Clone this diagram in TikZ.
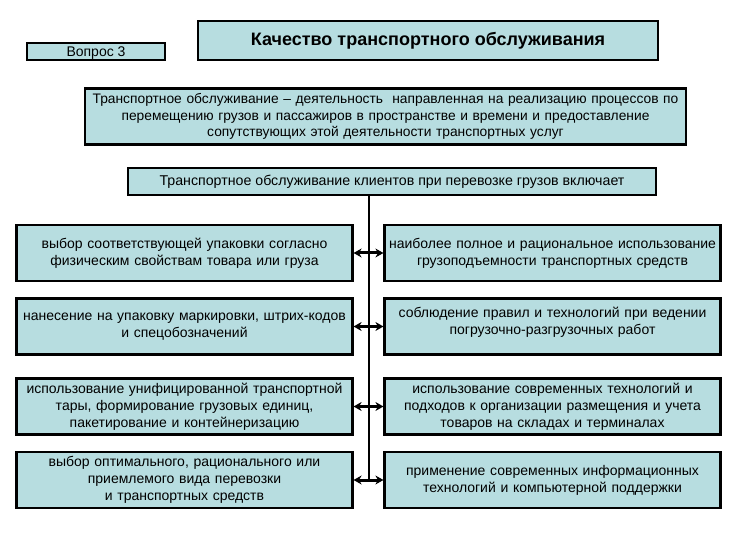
\documentclass[tikz,border=0pt]{standalone}
\usepackage{fontspec}
\setmainfont{Liberation Sans}
\usetikzlibrary{arrows.meta}
\definecolor{boxfill}{RGB}{183,221,224}
\tikzset{
  box/.style={draw=black, fill=boxfill, line width=2.2pt, align=center, inner sep=2pt, font=\fontsize{14}{17}\selectfont},
  sidebox/.style={box, inner sep=1pt, minimum width=336pt, minimum height=56pt, text width=332pt},
  link/.style={line width=3pt, {Stealth[length=8pt,width=9pt]}-{Stealth[length=8pt,width=9pt]}},
  trunk/.style={line width=2.2pt}
}
\begin{document}
\begin{tikzpicture}[x=1pt,y=-1pt]
\useasboundingbox (0,0) rectangle (737,540);
\node[box, minimum width=138pt, minimum height=17pt, inner sep=0pt, text height=10pt, text depth=0pt, font=\fontsize{14}{16}\selectfont] (q) at (96,51.5) {Вопрос 3};
\node[box, minimum width=460pt, minimum height=39pt, font=\fontsize{18}{21}\selectfont\bfseries] (title) at (428,40.5) {Качество транспортного обслуживания};
\node[box, minimum width=601pt, minimum height=56pt, text width=597pt, font=\fontsize{13.8}{16.5}\selectfont] (def) at (385.5,116.5) {Транспортное обслуживание -- деятельность\ \ направленная на реализацию процессов по\\ перемещению грузов и пассажиров в пространстве и времени и предоставление\\ сопутствующих этой деятельности транспортных услуг};
\node[box, minimum width=528pt, minimum height=27pt, font=\fontsize{14.2}{17}\selectfont] (inc) at (392,181.5) {Транспортное обслуживание клиентов при перевозке грузов включает};

\node[sidebox] (l1) at (184.5,253) {выбор соответствующей упаковки согласно\\ физическим свойствам товара или груза};
\node[sidebox] (l2) at (184.5,326.5) {нанесение на упаковку маркировки, штрих-кодов\\ и спецобозначений};
\node[sidebox] (l3) at (184.5,406.5) {использование унифицированной транспортной\\ тары, формирование грузовых единиц,\\ пакетирование и контейнеризацию};
\node[sidebox] (l4) at (184.5,480) {выбор оптимального, рационального или\\ приемлемого вида перевозки\\ и транспортных средств};

\node[sidebox] (r1) at (552.5,253) {наиболее полное и рациональное использование\\ грузоподъемности транспортных средств};
\node[sidebox] (r2) at (552.5,326.5) {соблюдение правил и технологий при ведении\\ погрузочно-разгрузочных работ\\[-5pt]\mbox{}};
\node[sidebox] (r3) at (552.5,406.5) {использование современных технологий и\\ подходов к организации размещения и учета\\ товаров на складах и терминалах};
\node[sidebox] (r4) at (552.5,480) {применение современных информационных\\ технологий и компьютерной поддержки};

\coordinate (ttop) at (369,195);
\coordinate (tbot) at (369,480);
\draw[trunk] (ttop) -- (tbot);
\draw[link] (l1.east) -- (r1.west);
\draw[link] (l2.east) -- (r2.west);
\draw[link] (l3.east) -- (r3.west);
\draw[link] (l4.east) -- (r4.west);
\end{tikzpicture}
\end{document}
